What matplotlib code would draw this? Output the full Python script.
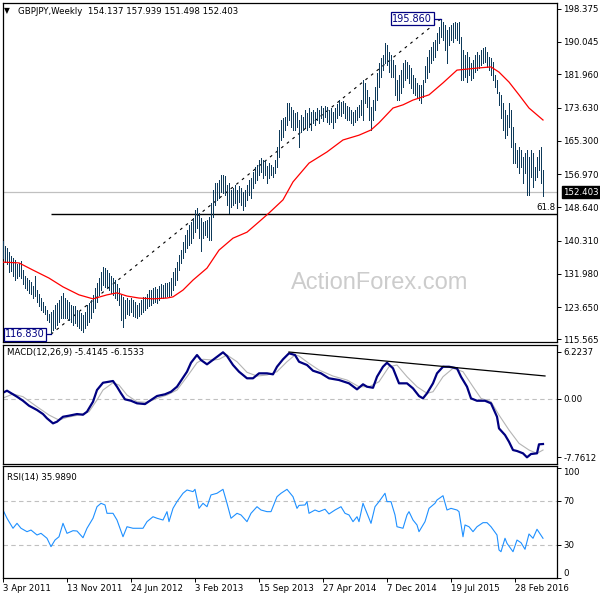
import matplotlib
matplotlib.use('Agg')
import matplotlib.pyplot as plt
import matplotlib.transforms as mtransforms

plt.rcParams['font.family'] = ['DejaVu Sans']

# weekly GBPJPY bars (week 0 = 3 Apr 2011)
highs = [
    140.2, 139.0, 138.5, 137.5, 136.5, 136.0, 135.5, 134.5, 134.8, 135.2,
    133.0, 131.5, 131.0, 130.5, 130.0, 129.0, 131.5, 128.0, 127.0, 126.0,
    125.0, 124.0, 123.0, 122.0, 122.5, 122.9, 124.2, 124.7, 125.4, 126.4,
    127.2, 125.9, 125.4, 124.9, 124.2, 123.9, 123.9, 122.9, 122.4, 122.2,
    121.7, 122.4, 124.2, 124.7, 125.4, 126.6, 128.4, 129.7, 130.9, 132.4,
    133.7, 133.4, 132.9, 132.2, 131.4, 130.9, 130.4, 129.4, 128.4, 126.6,
    126.1, 125.4, 125.9, 125.4, 125.9, 125.4, 124.9, 124.2, 124.7, 125.4,
    126.1, 126.1, 126.9, 127.9, 127.9, 128.4, 128.7, 128.2, 128.9, 129.4,
    129.2, 129.7, 129.7, 129.9, 130.9, 132.4, 133.4, 134.9, 136.7, 137.9,
    139.9, 141.7, 142.9, 144.2, 144.9, 145.9, 147.9, 148.4, 147.2, 145.9,
    144.9, 145.2, 145.5, 146.2, 149.7, 152.9, 154.7, 154.7, 155.4, 156.7,
    156.7, 156.4, 154.2, 154.7, 152.9, 153.4, 154.2, 152.9, 153.9, 153.4,
    152.4, 152.9, 154.2, 155.4, 155.9, 157.4, 158.7, 159.2, 160.4, 160.9,
    160.4, 160.4, 158.9, 159.7, 159.2, 158.7, 160.4, 163.7, 168.0, 170.5,
    171.0, 171.2, 174.7, 174.7, 173.7, 173.0, 172.2, 172.5, 170.5, 171.7,
    171.2, 173.0, 172.2, 173.5, 172.5, 173.0, 172.5, 173.5, 173.0, 174.0,
    173.5, 174.0, 173.7, 173.0, 173.5, 172.5, 173.5, 174.5, 175.5, 175.0,
    175.3, 174.7, 174.0, 173.7, 173.0, 172.5, 173.0, 173.7, 174.2, 175.5,
    180.5, 179.8, 178.0, 176.3, 173.7, 175.5, 178.8, 182.3, 184.8, 186.0,
    186.8, 189.8, 189.3, 187.5, 186.8, 185.5, 184.3, 180.5, 181.8, 183.0,
    184.8, 185.5, 185.0, 184.3, 183.5, 181.8, 181.0, 179.8, 179.3, 179.3,
    180.5, 184.0, 186.3, 188.0, 188.8, 190.0, 190.5, 192.3, 193.8, 195.86,
    195.0, 194.3, 193.0, 193.8, 194.3, 194.8, 195.0, 194.8, 195.0, 191.3,
    188.0, 186.8, 187.5, 186.3, 184.8, 185.5, 186.8, 187.5, 186.8, 188.0,
    188.5, 188.8, 187.5, 186.3, 186.0, 185.0, 181.8, 180.5, 177.5, 176.8,
    174.7, 173.0, 171.7, 174.7, 173.0, 168.7, 164.7, 163.0, 163.7, 163.0,
    161.2, 162.2, 163.0, 161.2, 163.0, 162.2, 158.7, 161.2, 163.0, 163.7, 157.939,
]
lows = [
    135.9, 135.0, 134.5, 132.5, 132.8, 131.5, 130.5, 131.0, 131.5, 131.0,
    129.5, 128.5, 128.0, 127.2, 127.0, 126.0, 126.5, 125.0, 124.0, 123.0,
    122.5, 122.0, 120.5, 120.0, 116.83, 117.9, 118.4, 119.2, 120.0, 121.0,
    121.0, 121.0, 121.0, 120.4, 119.9, 119.2, 119.7, 118.9, 118.4, 117.9,
    117.4, 118.4, 119.2, 120.0, 121.0, 122.4, 123.4, 124.9, 126.6, 127.9,
    129.2, 128.7, 128.4, 127.9, 127.2, 126.6, 125.9, 125.4, 124.2, 120.4,
    118.6, 120.9, 121.9, 121.6, 122.4, 121.4, 121.1, 120.9, 121.4, 121.9,
    122.4, 122.9, 123.4, 123.9, 124.2, 124.7, 124.9, 124.7, 125.4, 125.9,
    125.9, 126.1, 126.4, 126.4, 126.6, 127.9, 129.2, 130.4, 132.9, 134.7,
    135.9, 137.4, 138.4, 139.2, 139.7, 140.9, 142.4, 143.4, 140.9, 137.7,
    140.9, 141.7, 141.2, 140.4, 140.4, 146.2, 149.2, 150.4, 150.9, 152.4,
    152.2, 151.7, 149.2, 147.2, 148.7, 149.2, 149.7, 148.4, 149.9, 149.2,
    147.9, 148.9, 150.4, 151.7, 150.9, 153.4, 154.7, 155.4, 156.7, 157.4,
    155.9, 156.7, 154.7, 155.9, 156.7, 156.2, 157.2, 158.7, 161.2, 165.5,
    166.2, 168.0, 169.2, 170.5, 168.7, 168.0, 168.0, 168.7, 163.7, 167.5,
    168.0, 168.7, 168.0, 168.7, 168.0, 169.7, 169.2, 170.5, 169.7, 171.0,
    170.2, 171.2, 170.0, 169.5, 170.0, 168.5, 170.0, 171.0, 171.7, 171.5,
    172.2, 171.0, 170.5, 170.5, 169.7, 169.2, 170.0, 170.5, 171.2, 171.7,
    170.5, 174.8, 173.7, 170.5, 168.0, 170.5, 173.0, 175.5, 178.8, 181.3,
    183.0, 184.8, 184.3, 182.5, 181.3, 181.3, 176.8, 175.5, 175.5, 177.3,
    178.8, 180.5, 181.0, 179.8, 178.5, 177.3, 176.8, 176.3, 175.5, 174.8,
    176.3, 180.0, 181.0, 182.5, 184.8, 185.5, 186.3, 188.0, 189.8, 191.3,
    190.5, 188.0, 184.8, 189.3, 190.5, 190.0, 191.0, 190.5, 189.8, 180.5,
    180.5, 181.3, 180.0, 181.8, 180.5, 181.0, 182.5, 183.0, 183.5, 184.3,
    184.8, 185.0, 183.8, 183.0, 181.8, 180.5, 178.8, 177.3, 174.2, 171.0,
    168.0, 166.0, 166.7, 168.7, 163.7, 159.7, 159.7, 158.7, 157.2, 158.7,
    154.7, 157.2, 151.7, 151.7, 156.2, 153.7, 155.5, 156.2, 158.0, 154.7, 151.498,
]

# red moving average
ma_weeks = [0, 8, 15, 23, 30, 38, 45, 52, 57, 62, 68, 75, 82, 85, 90, 95, 102,
            108, 115, 122, 128, 133, 140, 145, 153, 162, 170, 178, 184, 188,
            195, 200, 205, 213, 220, 227, 237, 244, 248, 253, 258, 263, 270]
ma_values = [134.9, 134.7, 132.9, 130.9, 128.7, 126.7, 125.7, 126.7, 127.2,
             126.4, 125.9, 125.7, 125.9, 126.2, 127.9, 130.4, 133.4, 137.9,
             140.9, 142.4, 145.0, 147.2, 150.5, 155.0, 159.7, 162.5, 165.5,
             166.7, 168.0, 169.8, 173.5, 174.3, 175.5, 176.8, 179.8, 183.0,
             183.5, 183.8, 182.5, 180.0, 176.8, 173.5, 170.5]

# MACD(12,26,9)
macd_weeks = [0, 2, 5, 7, 10, 13, 17, 20, 22, 25, 27, 30, 33, 37, 40, 42, 45, 47,
              50, 52, 55, 57, 59, 61, 64, 67, 71, 74, 77, 81, 84, 87, 89, 92, 94,
              97, 99, 102, 106, 110, 112, 115, 118, 122, 125, 128, 132, 135, 137,
              140, 143, 146, 148, 152, 155, 159, 163, 168, 173, 177, 180, 182, 185,
              187, 190, 192, 195, 198, 202, 205, 208, 210, 212, 215, 217, 220, 223,
              227, 229, 232, 234, 237, 241, 244, 247, 248, 251, 253, 255, 257, 260,
              262, 264, 267, 268, 270]
macd_values = [0.80, 1.07, 0.59, 0.27, -0.27, -0.93, -1.50, -2.04, -2.61, -3.28,
               -3.06, -2.40, -2.26, -2.04, -2.13, -1.73, -0.40, 1.16, 2.13, 2.22,
               2.36, 1.60, 0.72, -0.08, -0.27, -0.61, -0.71, -0.17, 0.36, 0.59,
               0.93, 1.60, 2.40, 3.60, 4.79, 5.82, 5.15, 4.58, 5.38, 6.18, 5.69,
               4.49, 3.60, 2.72, 2.72, 3.38, 3.38, 3.25, 4.26, 5.25, 6.05, 5.82,
               4.93, 4.49, 3.73, 3.38, 2.72, 2.49, 2.05, 1.25, 1.92, 1.60, 1.46,
               2.93, 4.26, 4.79, 4.05, 2.05, 2.05, 1.38, 0.36, 0.05, 0.72, 2.05,
               3.38, 4.26, 4.26, 4.05, 2.93, 1.60, 0.05, -0.27, -0.27, -0.61,
               -2.40, -3.95, -4.83, -5.73, -6.83, -6.96, -7.27, -7.80, -7.36,
               -7.27, -6.07, -6.03]
signal_weeks = [0, 5, 10, 17, 23, 28, 32, 38, 43, 47, 50, 55, 58, 62, 67, 72, 77,
                82, 87, 92, 97, 100, 105, 108, 112, 117, 122, 127, 132, 137, 142,
                146, 148, 153, 158, 165, 172, 178, 183, 188, 193, 197, 202, 207,
                212, 215, 220, 225, 230, 235, 239, 244, 248, 253, 258, 263, 267, 270]
signal_values = [0.09, 0.63, 0.27, -1.07, -2.17, -2.84, -2.48, -2.17, -1.73,
                 -0.17, 1.16, 2.13, 1.82, 0.49, -0.40, -0.48, 0.05, 0.49, 1.16,
                 2.93, 4.79, 5.25, 5.15, 5.25, 5.82, 4.93, 3.52, 3.02, 3.16, 3.60,
                 4.93, 5.82, 5.69, 4.71, 3.82, 3.02, 2.49, 1.60, 1.60, 2.26, 4.26,
                 4.49, 2.93, 1.60, 0.72, 0.93, 2.93, 4.05, 3.60, 1.60, 0.05, -0.40,
                 -2.17, -4.17, -5.94, -6.83, -7.27, -6.83]

# RSI(14)
rsi_weeks = [0, 2, 3, 5, 7, 9, 12, 14, 17, 19, 22, 24, 26, 28, 30, 32, 35, 37, 40,
             42, 45, 47, 49, 51, 52, 55, 57, 60, 62, 65, 67, 70, 72, 75, 77, 80, 82,
             83, 85, 87, 90, 92, 95, 96, 98, 100, 102, 104, 107, 110, 112, 114, 117,
             119, 122, 124, 127, 129, 132, 134, 137, 139, 142, 145, 147, 148, 151,
             152, 153, 156, 158, 161, 163, 166, 169, 171, 173, 175, 177, 178, 180,
             182, 184, 186, 188, 191, 192, 194, 196, 197, 200, 202, 203, 205, 207,
             208, 211, 213, 216, 217, 220, 222, 224, 227, 228, 230, 231, 233, 235,
             237, 240, 242, 244, 247, 248, 249, 251, 252, 255, 257, 259, 261, 263,
             265, 267, 270]
rsi_values = [61.8, 54.3, 51.2, 45.2, 49.7, 45.2, 42.1, 43.6, 39.1, 40.6, 36.1,
              28.5, 34.5, 37.5, 49.7, 40.6, 43.0, 42.7, 36.6, 45.2, 54.3, 64.8,
              67.9, 66.4, 58.8, 58.8, 52.7, 37.5, 46.6, 45.2, 45.2, 45.2, 51.2,
              55.7, 54.3, 52.7, 60.3, 51.2, 63.3, 69.4, 77.0, 80.0, 78.5, 80.6,
              63.3, 67.9, 64.8, 75.5, 77.0, 80.6, 67.9, 54.3, 58.8, 57.3, 51.2,
              58.8, 64.8, 61.8, 60.3, 60.3, 73.9, 77.0, 80.6, 73.9, 63.3, 66.0,
              66.4, 69.4, 58.8, 61.8, 60.3, 62.5, 58.2, 61.8, 64.8, 58.8, 57.3,
              51.2, 55.7, 51.2, 67.9, 58.8, 49.7, 64.8, 69.4, 77.0, 69.4, 69.4,
              57.3, 46.6, 45.2, 57.3, 60.3, 52.7, 48.2, 42.1, 51.2, 63.3, 67.9,
              70.9, 74.8, 61.8, 63.3, 61.8, 60.3, 37.5, 48.2, 46.6, 42.1, 46.6,
              50.3, 50.3, 46.6, 39.1, 25.5, 23.9, 36.1, 31.5, 23.9, 34.5, 32.1,
              26.1, 40.0, 36.1, 44.3, 36.1]

date_weeks = [0, 32, 64, 96, 128, 160, 192, 224, 256]
date_labels = ['3 Apr 2011', '13 Nov 2011', '24 Jun 2012', '3 Feb 2013',
               '15 Sep 2013', '27 Apr 2014', '7 Dec 2014', '19 Jul 2015',
               '28 Feb 2016']
price_ticks = [198.375, 190.045, 181.960, 173.630, 165.300, 156.970,
               148.640, 140.310, 131.980, 123.650, 115.565]
macd_ticks = [6.2237, 0.0, -7.7612]
rsi_ticks = [100, 70, 30, 0]

swing_low, swing_high = 116.830, 195.860
low_week, high_week = 24, 219
fib_618 = 147.02
last_price = 152.403

bar_color = '#0e3a5a'
navy = '#000080'
grid_gray = '#c0c0c0'
fs = 6.2


def box(x0, y0, x1, y1):
    # pixel box -> figure fraction
    return [x0 / 600, 1 - y1 / 600, (x1 - x0) / 600, (y1 - y0) / 600]


fig = plt.figure(figsize=(6, 6), dpi=100)
ax = fig.add_axes(box(2.5, 3, 557, 342))
ax_macd = fig.add_axes(box(2.5, 344.5, 557, 464))
ax_rsi = fig.add_axes(box(2.5, 466, 557, 578))

weeks = list(range(len(highs)))
xmin, xmax = -0.25, 277

for a in (ax, ax_macd, ax_rsi):
    a.set_xlim(xmin, xmax)
    a.yaxis.tick_right()
    a.tick_params(axis='y', direction='out', length=3, width=0.7, pad=1.5,
                  labelsize=fs, colors='black')
    for s in a.spines.values():
        s.set_linewidth(0.9)
        s.set_color('black')
    a.set_facecolor('white')

# price panel
ax.set_ylim(114.89, 199.81)
ax.set_xticks([])
ax.set_yticks(price_ticks)
ax.set_yticklabels([f'{t:.3f}' for t in price_ticks])

ax.axhline(last_price, color=grid_gray, lw=0.9, zorder=1)
ax.hlines(fib_618, low_week, xmax, color='black', lw=1, zorder=2)
ax.plot([low_week, high_week], [swing_low, swing_high], color='black', lw=0.8,
        dashes=(2.5, 4), zorder=2)
ax.vlines(weeks, lows, highs, color=bar_color, lw=0.5, antialiased=False,
          zorder=3)
ax.plot(ma_weeks, ma_values, color='red', lw=0.9, zorder=4)

ax.text(0.68, 0.175, 'ActionForex.com', transform=ax.transAxes, ha='center',
        va='center', fontsize=17, color='#cccccc', family='Liberation Sans',
        zorder=0)

trans = mtransforms.blended_transform_factory(ax.transAxes, ax.transData)
ax.text(0.997, fib_618 + 0.4, '61.8', transform=trans, ha='right', va='bottom',
        fontsize=fs, zorder=5)
ax.text(1.011, last_price, f'{last_price:.3f}', transform=trans, ha='left',
        va='center', fontsize=fs, color='white', clip_on=False,
        bbox=dict(boxstyle='square,pad=0.15', fc='black', ec='black'))

ax.plot([19, low_week], [swing_low, swing_low], color=navy, lw=0.9, zorder=5)
ax.text(0.005, swing_low, f'{swing_low:.3f}', transform=trans, ha='left',
        va='center', fontsize=7, color=navy, zorder=6,
        bbox=dict(boxstyle='square,pad=0.15', fc='white', ec=navy, lw=0.9))
ax.plot([215, high_week], [swing_high, swing_high], color=navy, lw=0.9, zorder=5)
ax.text(214.6, swing_high, f'{swing_high:.3f}', ha='right', va='center',
        fontsize=7, color=navy, zorder=6,
        bbox=dict(boxstyle='square,pad=0.15', fc='white', ec=navy, lw=0.9))

fig.text(4 / 600, 1 - 11 / 600, '\u25bc', fontsize=5.5, va='center', ha='left')
fig.text(18 / 600, 1 - 11 / 600, 'GBPJPY,Weekly  154.137 157.939 151.498 152.403',
         fontsize=fs, va='center', ha='left')

# MACD panel
ax_macd.set_ylim(-8.69, 7.22)
ax_macd.set_xticks([])
ax_macd.set_yticks(macd_ticks)
ax_macd.set_yticklabels(['6.2237', '0.00', '-7.7612'])
ax_macd.axhline(0, color=grid_gray, lw=0.8, dashes=(4, 3))
ax_macd.plot(signal_weeks, signal_values, color='#b4b4b4', lw=0.8)
ax_macd.plot(macd_weeks, macd_values, color=navy, lw=1.6)
ax_macd.plot([143, 271], [6.22, 3.03], color='black', lw=0.9)
ax_macd.text(0.008, 0.93, 'MACD(12,26,9) -5.4145 -6.1533', transform=ax_macd.transAxes,
             fontsize=fs, va='center', ha='left')

# RSI panel
ax_rsi.set_ylim(0, 101.8)
ax_rsi.set_yticks(rsi_ticks)
ax_rsi.set_yticklabels([str(t) for t in rsi_ticks])
labs = ax_rsi.get_yticklabels()
labs[0].set_va('top')
labs[-1].set_va('bottom')
ax_rsi.axhline(70, color=grid_gray, lw=0.8, dashes=(4, 3))
ax_rsi.axhline(30, color=grid_gray, lw=0.8, dashes=(4, 3))
ax_rsi.plot(rsi_weeks, rsi_values, color='#1e90ff', lw=0.8)
ax_rsi.text(0.008, 0.9, 'RSI(14) 35.9890', transform=ax_rsi.transAxes,
            fontsize=fs, va='center', ha='left')
ax_rsi.set_xticks(date_weeks)
ax_rsi.set_xticklabels(date_labels)
ax_rsi.tick_params(axis='x', direction='out', length=3, width=0.7, pad=1.5,
                   labelsize=fs)
for lab in ax_rsi.get_xticklabels():
    lab.set_ha('left')

fig.savefig('out.png', dpi=100, facecolor='white')
